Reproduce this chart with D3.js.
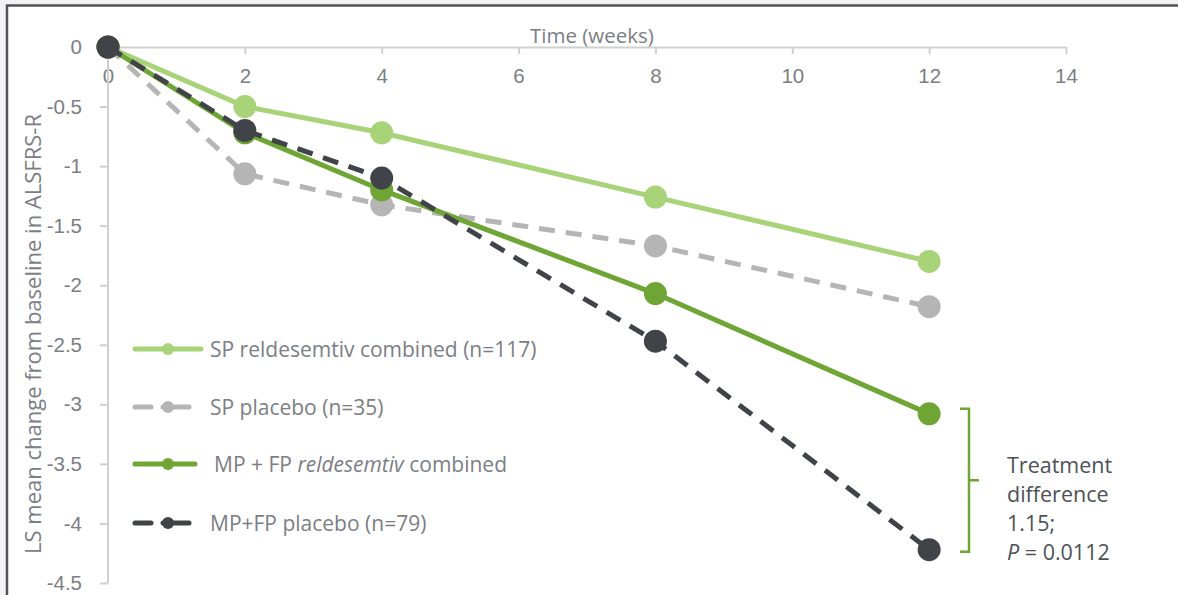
<!DOCTYPE html>
<html lang="en">
<head>
<meta charset="UTF-8">
<title>LS mean change from baseline in ALSFRS-R</title>
<script src="https://d3js.org/d3.v7.min.js"></script>
<style>
  body { margin: 0; background: #f2f2f2; }
  svg { display: block; font-family: "Open Sans", "Noto Sans", sans-serif; }
  .tick text { fill: #7b7e85; font-size: 20.5px; }
</style>
</head>
<body>
<svg width="1178" height="595"></svg>
<script>
  // data
  const weeks = [0, 2, 4, 8, 12];
  const spReldesemtiv = [0, -0.50, -0.72, -1.26, -1.80];
  const spPlacebo = [0, -1.065, -1.325, -1.67, -2.18];
  const mpfpReldesemtiv = [0, -0.72, -1.20, -2.07, -3.08];
  const mpfpPlacebo = [0, -0.70, -1.10, -2.47, -4.22];
  const xTicks = [0, 2, 4, 6, 8, 10, 12, 14];
  const yTicks = [0, -0.5, -1, -1.5, -2, -2.5, -3, -3.5, -4, -4.5];

  const series = [
    { name: "SP reldesemtiv combined (n=117)", values: spReldesemtiv, color: "#a9d378", dash: null },
    { name: "SP placebo (n=35)", values: spPlacebo, color: "#b5b5b5", dash: "16,11" },
    { name: "MP + FP reldesemtiv combined", values: mpfpReldesemtiv, color: "#6fa535", dash: null },
    { name: "MP+FP placebo (n=79)", values: mpfpPlacebo, color: "#404348", dash: "16,11" }
  ];

  const svg = d3.select("svg");

  // frame
  svg.append("rect").attr("x", 7).attr("y", 5.5).attr("width", 1180).attr("height", 600)
    .attr("fill", "#fff").attr("stroke", "#4f5256").attr("stroke-width", 2.5);

  const x = d3.scaleLinear().domain([0, 14]).range([108, 1066]);
  const y = d3.scaleLinear().domain([0, -4.5]).range([47, 583]);

  // x axis along zero line, labels below
  const xAxis = svg.append("g").attr("transform", `translate(0,${y(0)})`)
    .call(d3.axisBottom(x).tickValues(xTicks).tickSize(7).tickPadding(14).tickSizeOuter(0));
  xAxis.select(".domain").attr("stroke", "#d0d0d0").attr("stroke-width", 2);
  xAxis.selectAll(".tick line").attr("stroke", "#d0d0d0").attr("stroke-width", 2);

  const yAxis = svg.append("g").attr("transform", `translate(${x(0)},0)`)
    .call(d3.axisLeft(y).tickValues(yTicks).tickSize(8).tickPadding(18).tickSizeOuter(0)
      .tickFormat(d => d === 0 ? "0" : String(d)));
  yAxis.select(".domain").remove();
  yAxis.append("line").attr("x1", 0).attr("x2", 0).attr("y1", y(0)).attr("y2", y(-4.5))
    .attr("stroke", "#d0d0d0").attr("stroke-width", 2);
  yAxis.selectAll(".tick line").attr("stroke", "#d0d0d0").attr("stroke-width", 2);

  svg.append("text").attr("x", 530).attr("y", 43).attr("fill", "#7b7e85")
    .attr("font-size", 20.5).text("Time (weeks)");

  svg.append("text").attr("transform", "translate(41,334) rotate(-90)")
    .attr("text-anchor", "middle").attr("fill", "#7b7e85").attr("font-size", 22)
    .text("LS mean change from baseline in ALSFRS-R");

  const line = d3.line().x((d, i) => x(weeks[i])).y(d => y(d));

  series.forEach(s => {
    svg.append("path").datum(s.values)
      .attr("d", line).attr("fill", "none")
      .attr("stroke", s.color).attr("stroke-width", 5)
      .attr("stroke-dasharray", s.dash);
    svg.selectAll(null).data(s.values).enter().append("circle")
      .attr("cx", (d, i) => x(weeks[i])).attr("cy", d => y(d))
      .attr("r", 11.5).attr("fill", s.color);
  });

  // legend
  const legendY = [349, 407, 464, 523];
  series.forEach((s, i) => {
    const g = svg.append("g").attr("transform", `translate(133,${legendY[i]})`);
    g.append("line").attr("x1", 2).attr("x2", s.dash ? 56 : (i === 2 ? 62 : 68)).attr("stroke", s.color)
      .attr("stroke-width", 5).attr("stroke-linecap", "round")
      .attr("stroke-dasharray", s.dash ? "16,12,40" : null);
    g.append("circle").attr("cx", 35).attr("r", 6).attr("fill", s.color);
    const t = g.append("text").attr("x", i === 2 ? 81 : 77).attr("y", 7.5)
      .attr("fill", "#7b7e85").attr("font-size", 21);
    if (i === 2) {
      t.append("tspan").text("MP + FP ");
      t.append("tspan").attr("font-style", "italic").text("reldesemtiv");
      t.append("tspan").text(" combined");
    } else {
      t.text(s.name);
    }
  });

  // treatment difference bracket
  const by1 = y(mpfpReldesemtiv[4]) - 5, by2 = y(mpfpPlacebo[4]) + 2;
  svg.append("path")
    .attr("d", `M960,${by1}H969V${by2}H960M969,${(by1 + by2) / 2}H979`)
    .attr("fill", "none").attr("stroke", "#6fa535").attr("stroke-width", 2.5);

  const note = svg.append("text").attr("fill", "#4e5156").attr("font-size", 21.5);
  ["Treatment", "difference", "1.15;"].forEach((l, i) => {
    note.append("tspan").attr("x", 1007).attr("y", 473 + i * 29).text(l);
  });
  const last = note.append("tspan").attr("x", 1007).attr("y", 473 + 3 * 29);
  last.append("tspan").attr("font-style", "italic").text("P");
  last.append("tspan").text(" = 0.0112");
</script>
</body>
</html>
